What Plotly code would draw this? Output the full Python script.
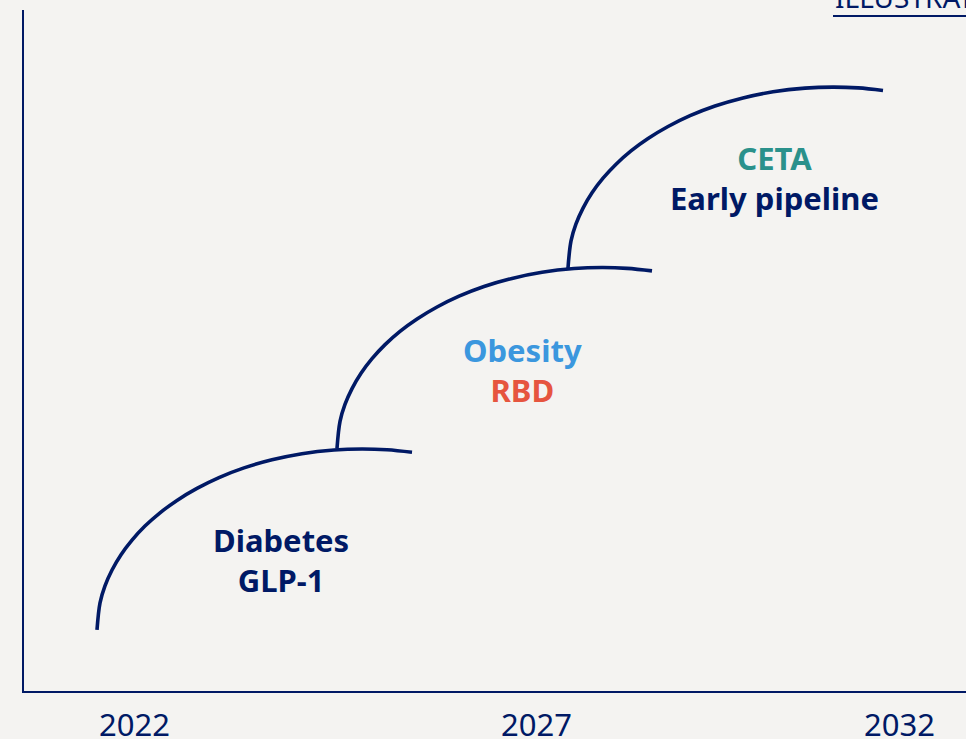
import plotly.graph_objects as go

# x in years, y in an arbitrary growth index (0-100)
diabetes_x = [2022.000, 2022.036, 2022.095, 2022.179, 2022.286, 2022.417, 2022.571, 2022.750, 2022.952,
              2023.190, 2023.452, 2023.750, 2024.083, 2024.440, 2024.821, 2025.155, 2025.452, 2025.750]
diabetes_y = [8.96, 12.95, 15.44, 17.77, 20.02, 22.16, 24.22, 26.17, 27.99,
              29.75, 31.34, 32.76, 33.95, 34.85, 35.39, 35.54, 35.42, 35.05]

obesity_x = [2024.857, 2024.893, 2024.952, 2025.036, 2025.143, 2025.274, 2025.429, 2025.607, 2025.810,
             2026.048, 2026.310, 2026.607, 2026.940, 2027.298, 2027.679, 2028.012, 2028.310, 2028.607]
obesity_y = [35.60, 39.59, 42.08, 44.41, 46.66, 48.80, 50.86, 52.81, 54.63,
             56.39, 57.98, 59.40, 60.59, 61.49, 62.03, 62.18, 62.06, 61.69]

pipeline_x = [2027.607, 2027.643, 2027.702, 2027.786, 2027.893, 2028.024, 2028.179, 2028.357, 2028.560,
              2028.798, 2029.060, 2029.357, 2029.690, 2030.048, 2030.429, 2030.762, 2031.060, 2031.357]
pipeline_y = [62.10, 66.09, 68.58, 70.91, 73.16, 75.30, 77.36, 79.31, 81.13,
              82.89, 84.48, 85.90, 87.09, 87.99, 88.53, 88.68, 88.56, 88.19]

tick_years = [2022, 2027, 2032]
tick_labels = ["2022", "2027", "2032"]

NAVY = "#001965"
LIGHT_BLUE = "#3B97DE"
CORAL = "#E6553F"
TEAL = "#2A918B"
BG = "#F4F3F1"
FONT = "Noto Sans"

fig = go.Figure()

for xs, ys in [(diabetes_x, diabetes_y), (obesity_x, obesity_y), (pipeline_x, pipeline_y)]:
    fig.add_trace(go.Scatter(
        x=xs, y=ys, mode="lines",
        line=dict(color=NAVY, width=3.6, shape="spline", smoothing=1.0),
        hoverinfo="skip", showlegend=False,
    ))

labels = [
    (2024.19, 19.2, f"<span style='color:{NAVY}'>Diabetes</span><br><span style='color:{NAVY}'>GLP-1</span>"),
    (2027.07, 47.1, f"<span style='color:{LIGHT_BLUE}'>Obesity</span><br><span style='color:{CORAL}'>RBD</span>"),
    (2030.07, 75.3, f"<span style='color:{TEAL}'>CETA</span><br><span style='color:{NAVY}'>Early pipeline</span>"),
]
for x, y, text in labels:
    fig.add_annotation(
        x=x, y=y, text=f"<b>{text}</b>", showarrow=False,
        font=dict(family=FONT, size=31, color=NAVY),
        xanchor="center", yanchor="middle", align="center",
    )

# tick labels
anchors = ["left", "center", "right"]
shifts = [0, 19, 0]
for yr, lab, anc, sh in zip(tick_years, tick_labels, anchors, shifts):
    fig.add_annotation(
        x=yr, y=0, yref="paper", text=lab, showarrow=False,
        xanchor=anc, yanchor="top", xshift=sh, yshift=-10,
        font=dict(family=FONT, size=31, color=NAVY),
    )

# "ILLUSTRATIVE" tag, mostly cut by the top edge
fig.add_annotation(
    x=(833 - 24) / 942, xref="paper", y=1, yref="paper", text="ILLUSTRATIVE",
    showarrow=False, xanchor="left", yanchor="bottom", yshift=-8,
    font=dict(family=FONT, size=28, color=NAVY),
)
fig.add_shape(
    type="line", xref="paper", yref="paper",
    x0=(833 - 24) / 942, x1=1.05, y0=1 - 6 / 681, y1=1 - 6 / 681,
    line=dict(color=NAVY, width=2),
)

fig.update_layout(
    width=966, height=739,
    margin=dict(l=24, r=0, t=10, b=48),
    paper_bgcolor=BG, plot_bgcolor=BG,
    xaxis=dict(range=[2021.131, 2032.345], showgrid=False, zeroline=False,
               showticklabels=False, ticks="", showline=True,
               linecolor=NAVY, linewidth=1.5),
    yaxis=dict(range=[0, 100], showgrid=False, zeroline=False,
               showticklabels=False, ticks="", showline=True,
               linecolor=NAVY, linewidth=1.5),
)

fig.write_html("out.html", config={"displayModeBar": False},
               post_script="document.body.style.margin='0px';")
